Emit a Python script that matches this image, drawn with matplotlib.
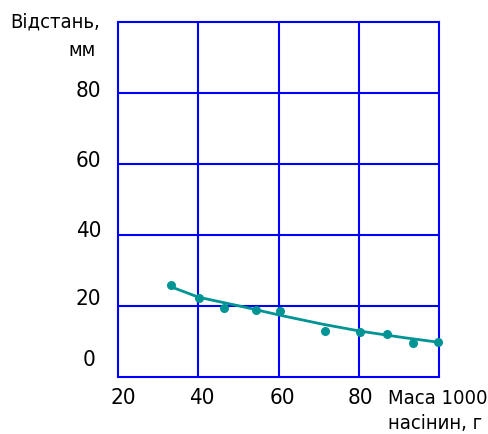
import matplotlib.pyplot as plt
from matplotlib import font_manager as fm
import numpy as np

# --- Données ---
mass_pts = [33.3, 40.1, 46.5, 54.4, 60.3, 71.7, 80.2, 87.0, 93.4, 99.8]
dist_pts = [25.9, 22.4, 19.5, 19.1, 18.6, 13.2, 12.8, 12.2, 9.6, 10.1]

# courbe de tendance
mass_curve = [33, 40, 50, 60, 70, 80, 90, 100]
dist_curve = [25.6, 22.6, 20.2, 17.6, 15.2, 13.1, 11.4, 9.9]

x_ticks = [20, 40, 60, 80]
y_ticks = [0, 20, 40, 60, 80]
x_ticklabels = ['20', '40', '60', '80']
y_ticklabels = ['0', '20', '40', '60', '80']

ylabel = 'Відстань,\nмм'
xlabel = 'Маса 1000\nнасінин, г'

# --- Police étroite (DejaVu Sans Condensed) ---
cond = [f.fname for f in fm.fontManager.ttflist
        if f.fname.endswith('DejaVuSansCondensed.ttf')]
if cond:
    TICK = dict(fontproperties=fm.FontProperties(fname=cond[0], size=16))
    LAB = dict(fontproperties=fm.FontProperties(fname=cond[0], size=14.5))
else:
    TICK = dict(fontproperties=fm.FontProperties(family='DejaVu Sans', size=15))
    LAB = dict(fontproperties=fm.FontProperties(family='DejaVu Sans', size=13))

BLUE = '#0000ff'
TEAL = '#009494'

fig = plt.figure(figsize=(4.88, 4.34), dpi=100)
ax = fig.add_axes([0.2418, 0.1302, 0.6578, 0.8191])
ax.set_xlim(20, 100)
ax.set_ylim(0, 100)

for v in [40, 60, 80]:
    ax.axvline(v, color=BLUE, lw=1.5, zorder=1)
for v in [20, 40, 60, 80]:
    ax.axhline(v, color=BLUE, lw=1.5, zorder=1)
for s in ax.spines.values():
    s.set_color(BLUE)
    s.set_linewidth(1.5)
ax.set_xticks([])
ax.set_yticks([])

# courbe + points
xs = np.linspace(min(mass_curve), max(mass_curve), 200)
ax.plot(xs, np.interp(xs, mass_curve, dist_curve), color=TEAL, lw=2, zorder=3)
ax.scatter(mass_pts, dist_pts, s=30, color=TEAL, zorder=4, clip_on=False)

# étiquettes des axes (décalages comme sur l'original)
y_nudge = [4.9, 2.2, 1.3, 0.9, 0.7]
for v, lab, dy in zip(y_ticks, y_ticklabels, y_nudge):
    ax.text(12.7, v + dy, lab, ha='center', va='center', clip_on=False, **TICK)
x_nudge = [1.3, 0.9, 0.9, 0.5]
for v, lab, dx in zip(x_ticks, x_ticklabels, x_nudge):
    ax.text(v + dx, -5.8, lab, ha='center', va='center', clip_on=False, **TICK)

ax.text(87.2, -5.8, xlabel.split('\n')[0], ha='left', va='center',
        clip_on=False, **LAB)
ax.text(87.2, -12.9, xlabel.split('\n')[1], ha='left', va='center',
        clip_on=False, **LAB)
ax.text(15.6, 100, ylabel.split('\n')[0], ha='right', va='center',
        clip_on=False, **LAB)
ax.text(14.5, 92.0, ylabel.split('\n')[1], ha='right', va='center',
        clip_on=False, **LAB)

plt.savefig('out.png', dpi=100)
plt.close()
